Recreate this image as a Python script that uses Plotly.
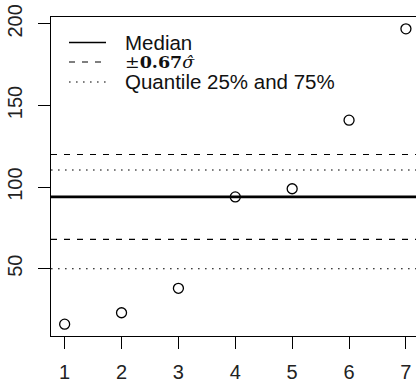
import plotly.graph_objects as go

# data
x_vals = [1, 2, 3, 4, 5, 6, 7]
y_vals = [16, 23, 38, 94, 99, 141, 197]
median_val = 94
sigma_band = [68, 120]
quantile_band = [50, 110.5]
x_ticks = [1, 2, 3, 4, 5, 6, 7]
y_ticks = [50, 100, 150, 200]
legend_labels = ["Median", "±<b>0.67</b><i>σ̂</i>", "Quantile 25% and 75%"]

W, H = 416, 381
L, R, T, B = 51, 0, 17, 45
pw, ph = W - L - R, H - T - B

fig = go.Figure()

fig.add_trace(go.Scatter(
    x=x_vals, y=y_vals, mode="markers",
    marker=dict(symbol="circle-open", size=10, color="black", line=dict(width=1.3, color="black")),
    showlegend=False, cliponaxis=False,
))

def hline(y, dash, width):
    fig.add_shape(type="line", xref="paper", yref="y", x0=0, x1=1, y0=y, y1=y,
                  line=dict(color="black", width=width, dash=dash), layer="below")

hline(median_val, "solid", 2.6)
for v in sigma_band:
    hline(v, "6px,7px", 1.1)
for v in quantile_band:
    hline(v, "1.6px,5.4px", 1.1)

# manual legend (R-style, no box)
def px2paper(px, py):
    return (px - L) / pw, (H - B - py) / ph

rows = [42.5, 62, 82]
styles = [("solid", 1.3), ("6px,7px", 1.1), ("1.6px,5.4px", 1.1)]
fonts = [dict(family="Liberation Sans, Arial", size=20.5, color="#111"),
         dict(family="DejaVu Serif", size=17.5, color="#111"),
         dict(family="Liberation Sans, Arial", size=20.5, color="#111")]
for ry, (dash, w), lab, f in zip(rows, styles, legend_labels, fonts):
    x0, y0 = px2paper(69, ry)
    x1, _ = px2paper(106, ry)
    fig.add_shape(type="line", xref="paper", yref="paper", x0=x0, x1=x1, y0=y0, y1=y0,
                  line=dict(color="black", width=w, dash=dash))
    tx, _ = px2paper(123, ry)
    fig.add_annotation(xref="paper", yref="paper", x=tx, y=y0, text=lab, showarrow=False,
                       xanchor="left", yanchor="middle", font=f)

fig.update_layout(
    width=W, height=H, margin=dict(l=L, r=R, t=T, b=B, pad=0),
    paper_bgcolor="white", plot_bgcolor="white", showlegend=False,
    font=dict(family="Liberation Sans, Arial", size=20, color="#222"),
)
fig.update_xaxes(range=[0.76, 7.177], tickvals=x_ticks, ticks="outside", ticklen=12,
                 tickwidth=1, tickcolor="black", showline=True, linecolor="black", linewidth=1.3,
                 mirror=True, showgrid=False, zeroline=False, ticklabelstandoff=6,
                 automargin=False)
fig.update_yaxes(range=[8.76, 204.24], tickvals=y_ticks, ticks="outside", ticklen=12,
                 tickwidth=1, tickcolor="black", showline=True, linecolor="black", linewidth=1.3,
                 mirror=False, showgrid=False, zeroline=False, tickangle=-90, ticklabelstandoff=8,
                 automargin=False)

fig.write_html("out.html", config={"displayModeBar": False},
               post_script="document.body.style.margin='0';document.body.style.overflow='hidden';")
